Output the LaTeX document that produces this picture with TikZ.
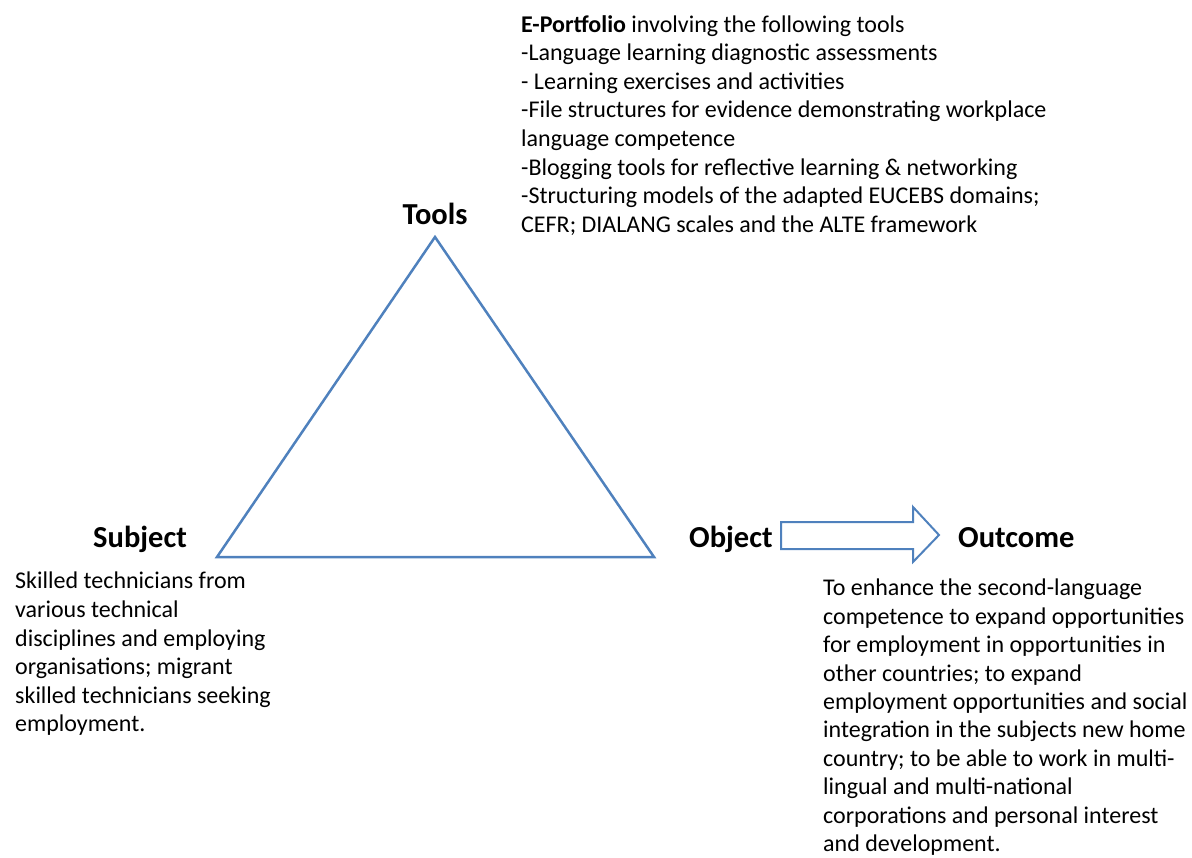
\documentclass[tikz,border=0pt]{standalone}
\usepackage{fontspec}
\setmainfont{Carlito}
\definecolor{tri}{RGB}{79,129,189}
\begin{document}
\begin{tikzpicture}[x=1pt,y=-1pt,
  label/.style={inner sep=0pt,anchor=base west,font=\fontsize{30.5}{36}\selectfont\bfseries},
  body/.style={inner sep=0pt,anchor=north west,align=left,font=\fontsize{24}{28.6}\selectfont},
  edge/.style={draw=tri,line width=2.5pt,line join=miter}]
\useasboundingbox (0,0) rectangle (1192,858);
% triangle
\coordinate (A) at (435,237);
\coordinate (B) at (217,557);
\coordinate (C) at (654,557);
\draw[edge] (A) -- (B) -- (C) -- cycle;
% labels
\node[label,anchor=base] (tools) at (435,225) {Tools};
\node[label] (subject) at (93,547) {Subject};
\node[label] (object) at (689,547) {Object};
\node[label] (outcome) at (958,547) {Outcome};
% block arrow
\coordinate (p1) at (781,522);
\coordinate (p2) at (913,522);
\coordinate (p3) at (913,507);
\coordinate (p4) at (939,535);
\coordinate (p5) at (913,562);
\coordinate (p6) at (913,549);
\coordinate (p7) at (781,549);
\draw[draw=tri,line width=2pt,fill=white,line join=miter] (p1) -- (p2) -- (p3) -- (p4) -- (p5) -- (p6) -- (p7) -- cycle;
% text blocks
\node[body] (toolstext) at (521,15) {\textbf{E-Portfolio} involving the following tools\\
-Language learning diagnostic assessments\\
- Learning exercises and activities\\
-File structures for evidence demonstrating workplace\\
language competence\\
-Blogging tools for reflective learning \& networking\\
-Structuring models of the adapted EUCEBS domains;\\
CEFR; DIALANG scales and the ALTE framework};
\node[body] (subjtext) at (15,572) {Skilled technicians from\\
various technical\\
disciplines and employing\\
organisations; migrant\\
skilled technicians seeking\\
employment.};
\node[body,font=\fontsize{24}{28.4}\selectfont] (outtext) at (823,579) {To enhance the second-language\\
competence to expand opportunities\\
for employment in opportunities in\\
other countries; to expand\\
employment opportunities and social\\
integration in the subjects new home\\
country; to be able to work in multi-\\
lingual and multi-national\\
corporations and personal interest\\
and development.};
\end{tikzpicture}
\end{document}
